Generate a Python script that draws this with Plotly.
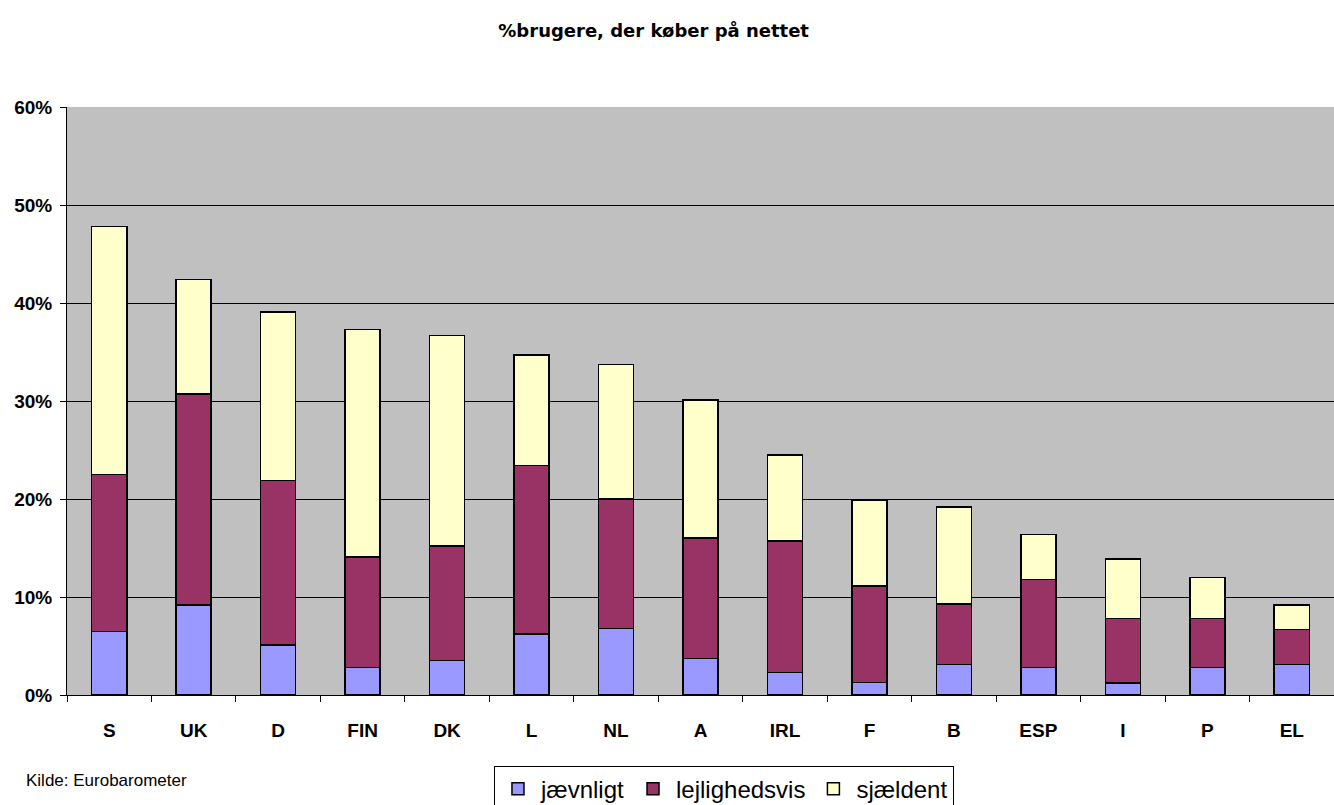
import plotly.graph_objects as go

countries = ["S", "UK", "D", "FIN", "DK", "L", "NL", "A", "IRL", "F", "B", "ESP", "I", "P", "EL"]
jaevnligt = [6.5, 9.2, 5.1, 2.8, 3.5, 6.2, 6.8, 3.7, 2.3, 1.3, 3.1, 2.8, 1.2, 2.8, 3.1]
lejlighedsvis = [16.0, 21.5, 16.8, 11.3, 11.7, 17.2, 13.2, 12.3, 13.4, 9.8, 6.2, 9.0, 6.6, 5.0, 3.6]
sjaeldent = [25.3, 11.7, 17.2, 23.2, 21.5, 11.3, 13.7, 14.1, 8.8, 8.8, 9.9, 4.6, 6.1, 4.2, 2.5]
y_ticks = [0, 0.1, 0.2, 0.3, 0.4, 0.5, 0.6]

series = [
    ("jævnligt", jaevnligt, "#9999FF"),
    ("lejlighedsvis", lejlighedsvis, "#993366"),
    ("sjældent", sjaeldent, "#FFFFCC"),
]

fig = go.Figure()
for name, vals, color in series:
    fig.add_trace(go.Bar(
        x=countries, y=[v / 100 for v in vals], name=name,
        marker=dict(color=color, line=dict(color="black", width=1.5)),
    ))

font = "Liberation Sans, Arial, sans-serif"
fig.update_layout(
    barmode="stack",
    bargap=0.585,
    width=1334, height=805,
    margin=dict(l=67, r=0, t=107, b=110, autoexpand=False),
    paper_bgcolor="white",
    plot_bgcolor="#C0C0C0",
    font=dict(family=font, color="black"),
    title=dict(text="%brugere, der køber på nettet", x=0.49, xanchor="center",
               y=0.962, yanchor="middle",
               font=dict(size=18, family="DejaVu Sans, sans-serif", weight="bold")),
    showlegend=True,
    legend=dict(orientation="h", x=0.337, xanchor="left", y=-0.12, yanchor="top",
                bordercolor="black", borderwidth=1, bgcolor="white",
                font=dict(size=24, family=font), traceorder="normal",
                itemwidth=36),
    annotations=[dict(text="Kilde: Eurobarometer", xref="paper", yref="paper",
                      x=-0.034, y=-0.146, xanchor="left", yanchor="middle",
                      showarrow=False, font=dict(size=17, family=font))],
)
fig.update_yaxes(
    range=[0, 0.6], tickvals=y_ticks, tickformat=".0%",
    showgrid=True, gridcolor="black", gridwidth=1,
    showline=True, linecolor="black", linewidth=1,
    ticks="outside", ticklen=6, tickcolor="black", automargin=False,
    tickfont=dict(size=19, family=font, weight="bold"), zeroline=False,
    ticklabelstandoff=4,
)
fig.update_xaxes(
    showline=True, linecolor="black", linewidth=1, automargin=False,
    ticks="outside", ticklen=6, tickcolor="black", tickson="boundaries",
    tickfont=dict(size=19, family=font, weight="bold"), ticklabelstandoff=18,
)
fig.write_html("out.html", config={"displayModeBar": False},
               post_script="document.body.style.margin='0';document.body.style.overflow='hidden';")
